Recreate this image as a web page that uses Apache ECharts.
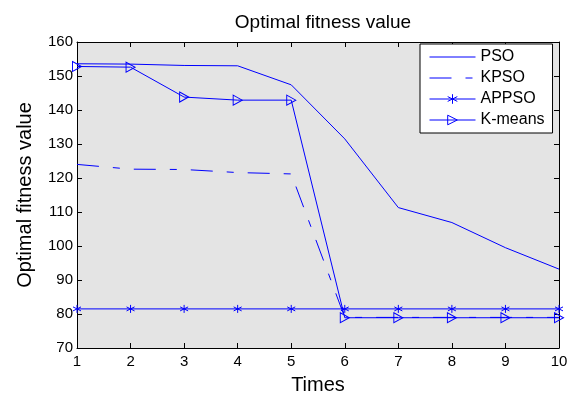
<!DOCTYPE html>
<html>
<head>
<meta charset="utf-8">
<script src="https://cdn.jsdelivr.net/npm/echarts@6/dist/echarts.min.js"></script>
<style>
  html, body { margin: 0; padding: 0; background: #fff; }
  #chart { width: 571px; height: 395px; }
</style>
</head>
<body>
<div id="chart"></div>
<script>
// data
const times = [1, 2, 3, 4, 5, 6, 7, 8, 9, 10];
const pso = [153.6, 153.5, 153.1, 153.0, 147.4, 131.5, 111.3, 106.9, 99.5, 93.2];
const kpso = [124.0, 122.6, 122.5, 121.6, 121.2, 79.0, 79.0, 79.0, 79.0, 79.0];
const appso = [81.5, 81.5, 81.5, 81.5, 81.5, 81.5, 81.5, 81.5, 81.5, 81.5];
const kmeans = [152.8, 152.6, 143.8, 142.9, 142.9, 78.9, 78.9, 78.9, 78.9, 78.9];
const yTicks = [70, 80, 90, 100, 110, 120, 130, 140, 150, 160];

const blue = '#0000ff';
const font = 'Liberation Sans, Arial, sans-serif';
// invisible marker so the legend shows a bare line
const noMark = 'path://M0,0L1,0L1,1Z';

const pairs = arr => times.map((t, i) => [t, arr[i]]);

const chart = echarts.init(document.getElementById('chart'));

const axisCommon = {
  type: 'value',
  axisLine: { show: true, lineStyle: { color: '#000', width: 1 } },
  axisTick: { show: true, inside: true, length: 5, lineStyle: { color: '#000' } },
  splitLine: { show: false }
};

const option = {
  animation: false,
  backgroundColor: '#fff',
  title: {
    text: 'Optimal fitness value',
    left: 318,
    top: 8,
    textAlign: 'center',
    textStyle: { fontFamily: font, fontSize: 19, fontWeight: 'normal', color: '#000' }
  },
  grid: {
    left: 77, right: 12, top: 42, bottom: 47,
    outerBoundsMode: 'none',
    containLabel: false,
    show: true, backgroundColor: '#e4e4e4', borderWidth: 0
  },
  legend: {
    orient: 'vertical',
    left: 420,
    top: 44,
    padding: [5, 8, 5, 9],
    itemWidth: 46,
    itemHeight: 12,
    itemGap: 5,
    backgroundColor: '#fff',
    borderColor: '#000',
    borderWidth: 1,
    borderRadius: 0,
    lineStyle: { width: 1 },
    itemStyle: { borderWidth: 1 },
    textStyle: { fontFamily: font, fontSize: 16, lineHeight: 15, color: '#000' },
    data: ['PSO', 'KPSO', 'APPSO', 'K-means']
  },
  xAxis: [
    Object.assign({}, axisCommon, {
      min: 1, max: 10, interval: 1,
      name: 'Times',
      nameLocation: 'middle',
      nameGap: 27,
      nameTextStyle: { fontFamily: font, fontSize: 20, color: '#000' },
      axisLabel: { fontFamily: font, fontSize: 15, color: '#000', margin: 6 }
    }),
    Object.assign({}, axisCommon, {
      position: 'top',
      min: 1, max: 10, interval: 1,
      axisLabel: { show: false }
    })
  ],
  yAxis: [
    Object.assign({}, axisCommon, {
      min: yTicks[0], max: yTicks[yTicks.length - 1], interval: 10,
      name: 'Optimal fitness value',
      nameLocation: 'middle',
      nameGap: 42,
      nameTextStyle: { fontFamily: font, fontSize: 20, color: '#000' },
      axisLabel: { fontFamily: font, fontSize: 15, color: '#000', margin: 4 }
    }),
    Object.assign({}, axisCommon, {
      position: 'right',
      min: yTicks[0], max: yTicks[yTicks.length - 1], interval: 10,
      axisLabel: { show: false }
    })
  ],
  series: [
    {
      name: 'PSO', type: 'line', data: pairs(pso),
      showSymbol: false, symbol: noMark,
      lineStyle: { color: blue, width: 1 },
      itemStyle: { color: 'none', borderWidth: 0 }
    },
    {
      name: 'KPSO', type: 'line', data: pairs(kpso),
      showSymbol: false, symbol: noMark,
      lineStyle: { color: blue, width: 1, type: [22, 14, 7, 14] },
      itemStyle: { color: 'none', borderWidth: 0 }
    },
    {
      name: 'APPSO', type: 'line', data: pairs(appso),
      symbol: 'path://M0,-5L0,5M-4.3,-2.5L4.3,2.5M-4.3,2.5L4.3,-2.5',
      symbolSize: 8,
      lineStyle: { color: blue, width: 1 },
      itemStyle: { color: 'none', borderColor: blue, borderWidth: 1 }
    },
    {
      name: 'K-means', type: 'line', data: pairs(kmeans),
      symbol: 'path://M0,0L10,5L0,10Z',
      symbolSize: [9, 10],
      lineStyle: { color: blue, width: 1 },
      itemStyle: { color: 'none', borderColor: blue, borderWidth: 1 }
    }
  ]
};

chart.setOption(option);
</script>
</body>
</html>
